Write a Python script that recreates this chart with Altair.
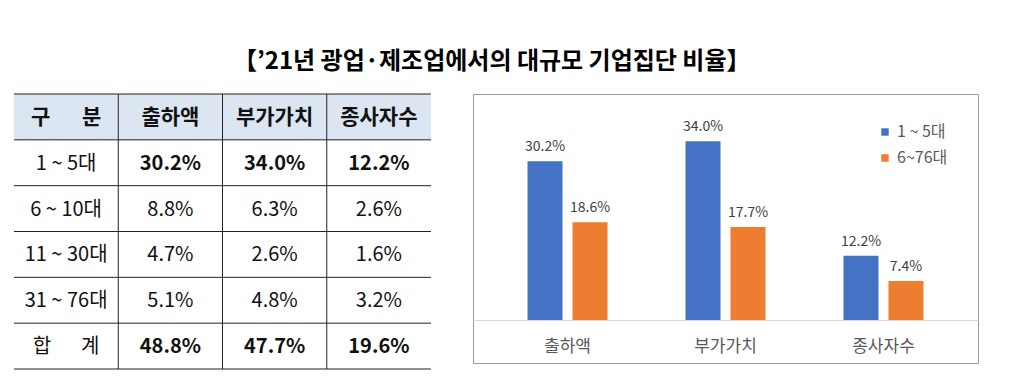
import altair as alt
import pandas as pd

FONT = "Noto Sans CJK KR"

title_text = "【’21년 광업·제조업에서의 대규모 기업집단 비율】"

# ---- table data ----
headers = ["구\u3000\u2002분", "출하액", "부가가치", "종사자수"]
row_labels = ["1 ~ 5대", "6 ~ 10대", "11 ~ 30대", "31 ~ 76대", "합\u3000\u2002계"]
shipments = [30.2, 8.8, 4.7, 5.1, 48.8]
value_added = [34.0, 6.3, 2.6, 4.8, 47.7]
employees = [12.2, 2.6, 1.6, 3.2, 19.6]
bold_rows = ["1 ~ 5대", "합\u3000\u2002계"]

# ---- bar chart data ----
categories = ["출하액", "부가가치", "종사자수"]
series = ["1 ~ 5대", "6~76대"]
top5 = [30.2, 34.0, 12.2]
rest = [18.6, 17.7, 7.4]

# build table cells
cells = []
for c, h in enumerate(headers):
    cells.append(dict(row=0, col=c, text=h, kind="header"))
for r, lab in enumerate(row_labels):
    cells.append(dict(row=r + 1, col=0, text=lab, kind="normal"))
    kind = "bold" if lab in bold_rows else "normal"
    for c, vals in enumerate([shipments, value_added, employees], start=1):
        cells.append(dict(row=r + 1, col=c, text=f"{vals[r]:.1f}%", kind=kind))
cells_df = pd.DataFrame(cells)

n_rows = len(row_labels) + 1
n_cols = len(headers)

xs = alt.Scale(domain=[0, n_cols], nice=False, zero=False)
ys = alt.Scale(domain=[0, n_rows], nice=False, zero=False, reverse=True)

base_cells = alt.Chart(cells_df).transform_calculate(
    cx="datum.col + 0.5", cy="datum.row + 0.5", xe="datum.col + 1", ye="datum.row + 1"
)

header_bg = base_cells.transform_filter("datum.row == 0").mark_rect(
    color="#DCE6F2"
).encode(
    x=alt.X("col:Q", scale=xs, axis=None),
    x2="xe:Q",
    y=alt.Y("row:Q", scale=ys, axis=None),
    y2="ye:Q",
)

def text_layer(kind, size, weight):
    return base_cells.transform_filter(f"datum.kind == '{kind}'").mark_text(
        font=FONT, fontSize=size, fontWeight=weight, color="#111111",
        align="center", baseline="middle", dy=1
    ).encode(
        x=alt.X("cx:Q", scale=xs, axis=None),
        y=alt.Y("cy:Q", scale=ys, axis=None),
        text="text:N",
    )

hlines = alt.Chart(pd.DataFrame({"r": list(range(n_rows + 1))})).transform_calculate(
    a="0", b=str(n_cols)
).mark_rule(color="#222222", strokeWidth=1).encode(
    y=alt.Y("r:Q", scale=ys, axis=None),
    x=alt.X("a:Q", scale=xs, axis=None),
    x2="b:Q",
)
vlines = alt.Chart(pd.DataFrame({"c": list(range(1, n_cols))})).transform_calculate(
    a="0", b=str(n_rows)
).mark_rule(color="#222222", strokeWidth=1).encode(
    x=alt.X("c:Q", scale=xs, axis=None),
    y=alt.Y("a:Q", scale=ys, axis=None),
    y2="b:Q",
)

table = alt.layer(
    header_bg,
    hlines,
    vlines,
    text_layer("header", 21, "bold"),
    text_layer("bold", 20, "bold"),
    text_layer("normal", 20, "normal"),
).properties(width=417, height=275, view=alt.ViewBackground(stroke="transparent"))

# ---- bar chart ----
bar_rows = []
for i, cat in enumerate(categories):
    bar_rows.append(dict(category=cat, series=series[0], value=top5[i]))
    bar_rows.append(dict(category=cat, series=series[1], value=rest[i]))
bars_df = pd.DataFrame(bar_rows)

bbase = alt.Chart(bars_df).transform_calculate(
    label="format(datum.value, '.1f') + '%'"
).encode(
    x=alt.X(
        "category:N",
        sort=categories,
        scale=alt.Scale(paddingInner=0.4937, paddingOuter=0.345),
        axis=alt.Axis(
            title=None, orient="bottom", offset=-43, ticks=False, labelAngle=0,
            domainColor="#d9d9d9", domainWidth=1, labelFont=FONT, labelFontSize=17,
            labelColor="#595959", labelPadding=18,
        ),
    ),
    xOffset=alt.XOffset("series:N", sort=series,
                        scale=alt.Scale(paddingInner=0.222, paddingOuter=0)),
    y=alt.Y("value:Q", scale=alt.Scale(domain=[-8.2, 43], nice=False, zero=False), axis=None),
)

bars = bbase.mark_bar().encode(
    y2=alt.datum(0),
    color=alt.Color(
        "series:N",
        sort=series,
        scale=alt.Scale(domain=series, range=["#4472C4", "#ED7D31"]),
        legend=alt.Legend(
            title=None, orient="none", legendX=863, legendY=30,
            symbolType="square", symbolSize=55, symbolStrokeWidth=0,
            labelFont=FONT, labelFontSize=16, labelColor="#595959",
            rowPadding=10, labelOffset=4,
        ),
    ),
)

labels = bbase.mark_text(
    font=FONT, fontSize=14, color="#404040", dy=-14, align="center", baseline="middle"
).encode(text="label:N")

bar_chart = alt.layer(bars, labels).properties(
    width=505, height=269,
    view=alt.ViewBackground(stroke="#9a9a9a", strokeWidth=1),
)

chart = alt.hconcat(table, bar_chart, spacing=40).properties(
    title=alt.Title(
        text=title_text, font=FONT, fontSize=24, fontWeight="bold", color="#000000",
        anchor="middle", offset=19, dx=-4,
    ),
    padding={"left": 5, "top": 42, "right": 5, "bottom": 5},
).configure(font=FONT)

chart.save("out.html", embed_options={"renderer": "svg", "actions": False})
